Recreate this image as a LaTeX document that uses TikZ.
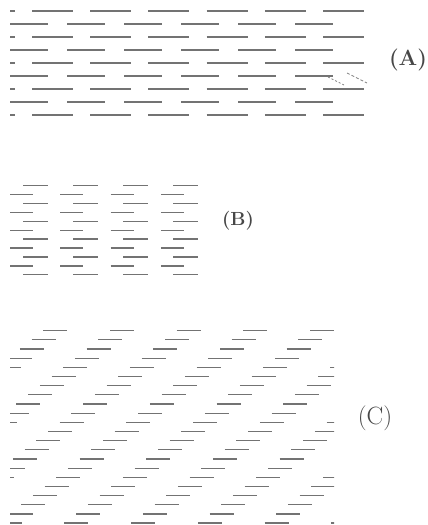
\documentclass[tikz,border=0pt]{standalone}
\usepackage{fontspec}
\begin{document}
\begin{tikzpicture}[x=1pt,y=-1pt,
  strokeA/.style={line width=1.8pt,color=black!55},
  strokeB/.style={line width=1.4pt,color=black!55},
  strokeC/.style={line width=1.2pt,color=black!55},
  panel/.style={font=\bfseries\fontsize{22}{22}\selectfont,color=black!72}]
\useasboundingbox (0,0) rectangle (428,525);

% pattern A: nine rows, every other row shifted by half a period
\foreach \i in {0,2,4,6,8} {
  \draw[strokeA] (10,11+13*\i) -- (15,11+13*\i);
  \foreach \k in {0,...,5}
    \draw[strokeA] (32+58.2*\k,11+13*\i) -- ++(41,0);
}
\foreach \i in {1,3,5,7} {
  \foreach \k in {0,...,5}
    \draw[strokeA] (10+57*\k,11+13*\i) -- ++(38,0);
}
\draw[line width=0.8pt,color=black!50,dash pattern=on 2pt off 2pt] (328,77) -- (344,85);
\draw[line width=0.8pt,color=black!50,dash pattern=on 3pt off 2pt] (347,73) -- (367,83);

% pattern B: eleven short rows
\foreach \i in {0,2,4,6,8,10} {
  \foreach \k in {0,...,3}
    \draw[strokeB] (23+50*\k,185.7+8.9*\i) -- ++(25,0);
}
\foreach \i in {1,3,5,7,9} {
  \foreach \k in {0,...,3}
    \draw[strokeB] (10+50.3*\k,185.7+8.9*\i) -- ++(23,0);
}

% pattern C: rows slide to the left, giving diagonals
\begin{scope}
\clip (10,320) rectangle (334,525);
\foreach \r in {0,...,21}
  \foreach \k in {-1,...,8}
    \draw[strokeC] (43.3-11.7*\r+66.7*\k,330.7+9.16*\r) -- ++(24,0);
\end{scope}

\node[panel] (labA) at (408,60) {(A)};
\node[panel,font=\bfseries\fontsize{19}{19}\selectfont] (labB) at (238,221) {(B)};
\node[panel,font=\fontsize{25}{25}\selectfont] (labC) at (375,418) {(C)};
\end{tikzpicture}
\end{document}
